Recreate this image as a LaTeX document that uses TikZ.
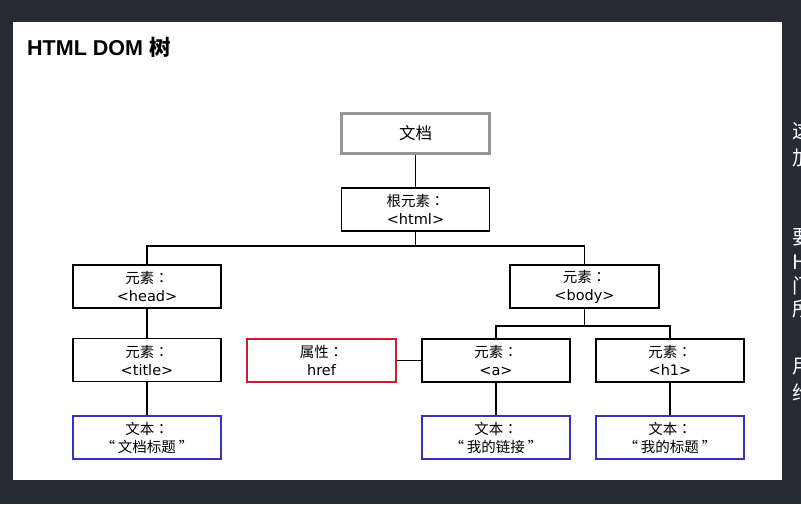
\documentclass[tikz,border=0pt]{standalone}
\usepackage{fontspec}
\setmainfont{DejaVu Sans}
\newfontfamily\cjk{Noto Sans CJK SC}
\newfontfamily\cjkjp{Noto Sans CJK JP}
\newfontfamily\titlefont{Liberation Sans}
\newcommand{\fcolon}{{\cjkjp ：}}
\newcommand{\qo}{“\hspace{3pt}}
\newcommand{\qc}{\hspace{3pt}”}
\definecolor{bgdark}{RGB}{38,42,51}
\definecolor{boxgrey}{RGB}{150,150,150}
\definecolor{boxred}{RGB}{200,30,45}
\definecolor{boxblue}{RGB}{55,50,190}
\begin{document}
\begin{tikzpicture}[x=1pt,y=-1pt,
  box/.style={draw=black, line width=1.3pt, minimum width=148pt, minimum height=43pt,
    inner sep=0pt, align=center, text=black, font=\fontsize{14.5}{18}\selectfont},
  greybox/.style={box, draw=boxgrey, line width=2.6pt, minimum height=40pt,
    font=\cjk\fontsize{16.5}{18}\selectfont},
  redbox/.style={box, draw=boxred},
  bluebox/.style={box, draw=boxblue, font=\cjk\fontsize{14.5}{18}\selectfont},
  conn/.style={draw=black, line width=1.3pt},
  sidetext/.style={anchor=west, text=white, inner sep=0pt, font=\cjk\fontsize{20}{20}\selectfont}]
\useasboundingbox (0,0) rectangle (801,504);
\fill[bgdark] (0,0) rectangle (801,504);
\fill[white] (13,22) rectangle (782,480);
\node[anchor=west, inner sep=0pt, font=\fontsize{21.5}{21.5}\selectfont\bfseries] (title) at (27,47)
  {\titlefont\bfseries HTML DOM {\cjk\bfseries 树}};
% nodes
\node[greybox] (doc) at (415.5,133.5) {文档};
\node[box] (html) at (415.5,209.5) {{\cjk 根元素}\fcolon\\<html>};
\node[box] (head) at (147,286.5) {{\cjk 元素}\fcolon\\<head>};
\node[box, minimum width=149pt] (body) at (584.5,286.5) {{\cjk 元素}\fcolon\\<body>};
\node[box] (ttl) at (147,360) {{\cjk 元素}\fcolon\\<title>};
\node[redbox, minimum width=149pt] (href) at (321.5,360.5) {{\cjk 属性}\fcolon\\href};
\node[box] (a) at (496,360.5) {{\cjk 元素}\fcolon\\<a>};
\node[box] (h1) at (670,360.5) {{\cjk 元素}\fcolon\\<h1>};
\node[bluebox] (t1) at (147,437.5) {文本\fcolon\\\qo 文档标题\qc};
\node[bluebox] (t2) at (496,437.5) {文本\fcolon\\\qo 我的链接\qc};
\node[bluebox] (t3) at (670,437.5) {文本\fcolon\\\qo 我的标题\qc};
\coordinate (j1) at (415.5,246);
\coordinate (j2) at (584.5,326);
% connectors
\draw[conn] (doc.south) -- (html.north);
\draw[conn] (html.south) -- (j1);
\draw[conn] (head.north) |- (j1) -| (body.north);
\draw[conn] (head.south) -- (ttl.north);
\draw[conn] (ttl.south) -- (t1.north);
\draw[conn] (body.south) -- (j2);
\draw[conn] (a.north) |- (j2) -| (h1.north);
\draw[conn] (href.east) -- (a.west);
\draw[conn] (a.south) -- (t2.north);
\draw[conn] (h1.south) -- (t3.north);
% clipped side text
\begin{scope}
\clip (782,22) rectangle (801,504);
\node[sidetext] (s1) at (792,131) {这};
\node[sidetext] (s2) at (792,158) {加};
\node[sidetext] (s3) at (792,237) {要};
\node[sidetext] (s4) at (792,262) {H};
\node[sidetext] (s5) at (792,286) {门};
\node[sidetext] (s6) at (792,309) {所};
\node[sidetext] (s7) at (792,367) {用};
\node[sidetext] (s8) at (792,393) {给};
\end{scope}
\end{tikzpicture}
\end{document}
